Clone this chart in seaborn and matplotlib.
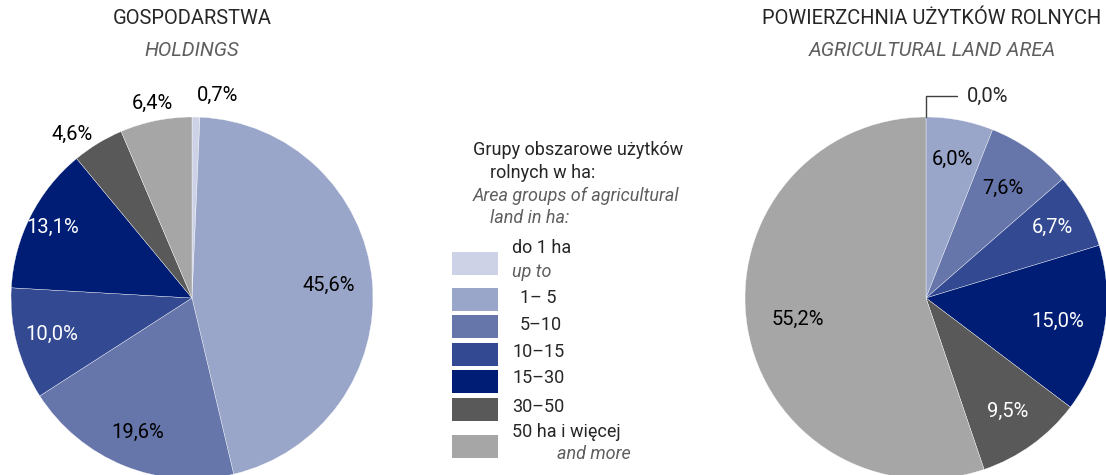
import numpy as np
import matplotlib.pyplot as plt
import seaborn as sns
from matplotlib.patches import Rectangle

# data
groups_pl = ["do 1 ha", "1\u2013 5", "5\u201310", "10\u201315", "15\u201330", "30\u201350", "50 ha i więcej"]
groups_en = ["up to", None, None, None, None, None, "and more"]
holdings = [0.7, 45.6, 19.6, 10.0, 13.1, 4.6, 6.4]
land_area = [0.0, 6.0, 7.6, 6.7, 15.0, 9.5, 55.2]

palette = ["#cdd2e6", "#99a6c9", "#6676ab", "#334a93", "#001d75", "#595959", "#a6a6a6"]

sns.set_theme(style="white")
plt.rcParams["font.family"] = ["Roboto", "DejaVu Sans"]

W, H = 1106, 475
fig = plt.figure(figsize=(W / 100, H / 100), dpi=100)
ax = fig.add_axes([0, 0, 1, 1])

GRAY = "#5f5f5f"
FS = 14.5


def Y(y):
    return H - y


def fmt(v):
    return f"{v:.1f}".replace(".", ",") + "%"


def draw_pie(values, cx, cy, r, dists, has):
    wedges, _ = ax.pie(values, colors=palette, startangle=90, counterclock=False,
                       center=(cx, Y(cy)), radius=r,
                       wedgeprops=dict(edgecolor="white", linewidth=0.25))
    for i, (w, v) in enumerate(zip(wedges, values)):
        if dists[i] is None:
            continue
        ang = np.deg2rad((w.theta1 + w.theta2) / 2)
        x = cx + dists[i] * r * np.cos(ang)
        y = Y(cy) + dists[i] * r * np.sin(ang)
        col = "white" if (i in (3, 4, 5) and dists[i] < 1) else "black"
        ax.text(x, y, fmt(v), ha=has[i], va="center", fontsize=FS, color=col)
    return wedges


# left pie: holdings
draw_pie(holdings, 192, 298, 181,
         [1.12, 0.76, 0.8, 0.8, 0.86, 1.06, 1.1],
         ["left", "center", "center", "center", "center", "right", "center"])

# right pie: agricultural land
rw = draw_pie(land_area, 926, 298, 181,
              [None, 0.78, 0.74, 0.8, 0.74, 0.77, 0.72],
              ["center"] * 7)
# leader line for the 0,0% slice
ang = np.deg2rad((rw[0].theta1 + rw[0].theta2) / 2)
px, py = 926 + 181 * np.cos(ang), Y(298) + 181 * np.sin(ang)
ax.plot([px, px, px + 31], [py, Y(96), Y(96)], color="#404040", lw=1)
ax.text(px + 41, Y(96), fmt(land_area[0]), ha="left", va="center", fontsize=FS)

# titles
ax.text(192, Y(18), "GOSPODARSTWA", ha="center", va="center", fontsize=FS)
ax.text(192, Y(50), "HOLDINGS", ha="center", va="center", fontsize=FS,
        style="italic", color=GRAY)
ax.text(932, Y(18), "POWIERZCHNIA UŻYTKÓW ROLNYCH", ha="center", va="center", fontsize=FS)
ax.text(932, Y(50), "AGRICULTURAL LAND AREA", ha="center", va="center", fontsize=FS,
        style="italic", color=GRAY)

# legend
LFS = 13
ax.text(473, Y(150), "Grupy obszarowe użytków", ha="left", va="center", fontsize=LFS)
ax.text(490, Y(173), "rolnych w ha:", ha="left", va="center", fontsize=LFS)
ax.text(473, Y(196), "Area groups of agricultural", ha="left", va="center",
        fontsize=LFS, style="italic", color=GRAY)
ax.text(490, Y(218), "land in ha:", ha="left", va="center", fontsize=LFS,
        style="italic", color=GRAY)

box_y = [263, 299, 326, 354, 381, 409, 446]
pl_y = [248, 298, 325, 352, 378, 407, 432]
pl_x = [512, 520, 520, 512, 512, 512, 512]
en_pos = {0: (512, 272), 6: (557, 454)}
for i, (lab, c) in enumerate(zip(groups_pl, palette)):
    ax.add_patch(Rectangle((452, Y(box_y[i]) - 11.5), 46, 23, facecolor=c, edgecolor="none"))
    ax.text(pl_x[i], Y(pl_y[i]), lab, ha="left", va="center", fontsize=LFS)
    if groups_en[i]:
        ex, ey = en_pos[i]
        ax.text(ex, Y(ey), groups_en[i], ha="left", va="center", fontsize=LFS,
                style="italic", color=GRAY)

ax.set_xlim(0, W)
ax.set_ylim(0, H)
ax.set_aspect("equal")
ax.axis("off")

fig.savefig("out.png", dpi=100)
